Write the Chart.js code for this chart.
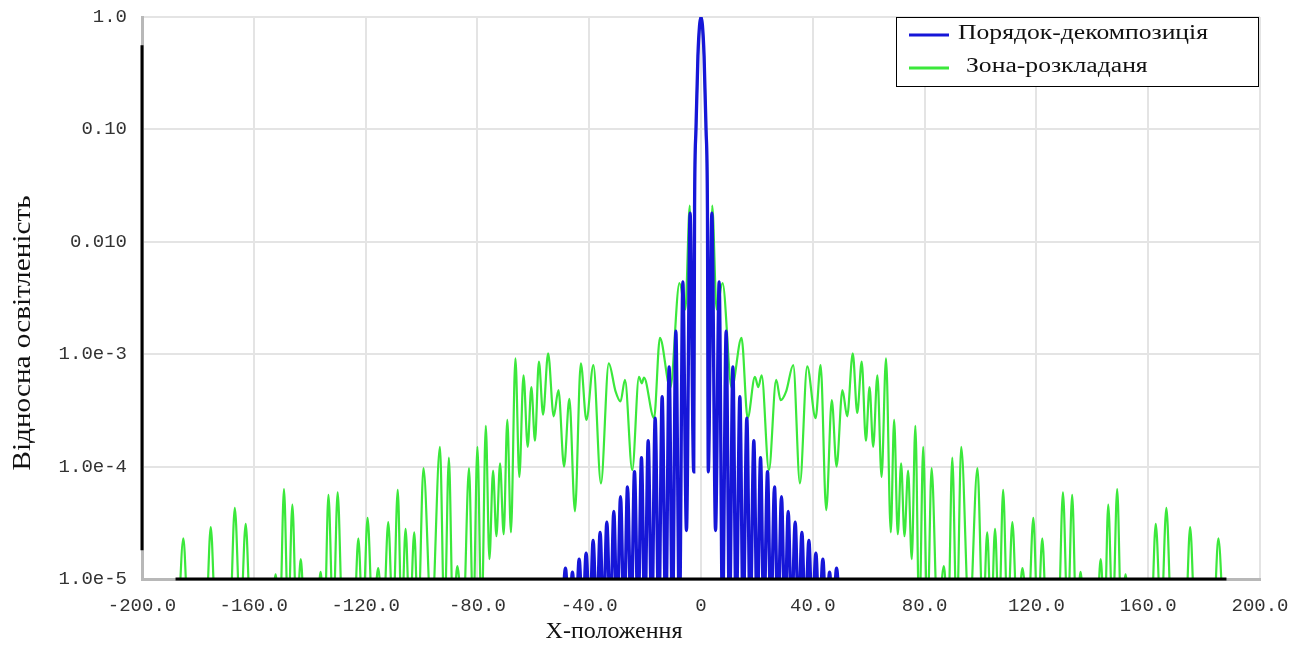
<!DOCTYPE html>
<html>
<head>
<meta charset="utf-8">
<script src="https://cdn.jsdelivr.net/npm/chart.js@4/dist/chart.umd.min.js"></script>
<style>
  html, body { margin: 0; padding: 0; background: #fff; }
  #wrap { width: 1311px; height: 648px; }
</style>
</head>
<body>
<div id="wrap"><canvas id="plot"></canvas></div>
<script>
// axis text
const xTitle = 'X-положення';
const yTitle = 'Відносна освітленість';
const xTickLabels = ['-200.0', '-160.0', '-120.0', '-80.0', '-40.0', '0', '40.0', '80.0', '120.0', '160.0', '200.0'];
const yTickValues = [1e-5, 1e-4, 1e-3, 1e-2, 1e-1, 1];
const yTickLabels = ['1.0e-5', '1.0e-4', '1.0e-3', '0.010', '0.10', '1.0'];

// "Порядок-декомпозиція": peaks and nulls (4e-6 = below the axis)
const blueX = [
  -49.7, -48.5, -47.2, -46.0, -44.8, -43.6, -42.3, -41.1, -39.8, -38.6,
  -37.3, -36.1, -34.9, -33.7, -32.4, -31.2, -30.0, -28.8, -27.5, -26.3,
  -25.0, -23.8, -22.5, -21.3, -20.1, -18.9, -17.6, -16.4, -15.1, -13.9,
  -12.6, -11.4, -10.2, -9.0, -7.7, -6.5, -5.2, -3.9, -2.6,
  -2.3, -1.8, -1.1, -0.5, 0, 0.5, 1.1, 1.8, 2.3,
  2.6, 3.9, 5.2, 6.5, 7.7, 9.0, 10.2, 11.4, 12.6, 13.9,
  15.1, 16.4, 17.6, 18.9, 20.1, 21.3, 22.5, 23.8, 25.0, 26.3,
  27.5, 28.8, 30.0, 31.2, 32.4, 33.7, 34.9, 36.1, 37.3, 38.6,
  39.8, 41.1, 42.3, 43.6, 44.8, 46.0, 47.2, 48.5, 49.7
];
const blueY = [
  4e-6, 1.25e-5, 4e-6, 1.15e-5, 4e-6, 1.5e-5, 4e-6, 1.7e-5, 4e-6, 2.2e-5,
  4e-6, 2.6e-5, 4e-6, 3.2e-5, 4e-6, 4.0e-5, 4e-6, 5.4e-5, 4e-6, 6.6e-5,
  4e-6, 9.0e-5, 4e-6, 1.2e-4, 4e-6, 1.7e-4, 4e-6, 2.7e-4, 4e-6, 4.2e-4,
  4e-6, 7.7e-4, 4e-6, 1.6e-3, 4e-6, 4.4e-3, 2.7e-5, 1.8e-2, 9.0e-5,
  2.0e-2, 0.1, 0.45, 0.85, 1.0, 0.85, 0.45, 0.1, 2.0e-2,
  9.0e-5, 1.8e-2, 2.7e-5, 4.4e-3, 4e-6, 1.6e-3, 4e-6, 7.7e-4, 4e-6, 4.2e-4,
  4e-6, 2.7e-4, 4e-6, 1.7e-4, 4e-6, 1.2e-4, 4e-6, 9.0e-5, 4e-6, 6.6e-5,
  4e-6, 5.4e-5, 4e-6, 4.0e-5, 4e-6, 3.2e-5, 4e-6, 2.6e-5, 4e-6, 2.2e-5,
  4e-6, 1.7e-5, 4e-6, 1.5e-5, 4e-6, 1.15e-5, 4e-6, 1.25e-5, 4e-6
];

// "Зона-розкладаня"
const greenX = [
  -187.0, -185.2, -183.4, -177.2, -175.4, -173.6, -168.6, -166.8, -164.8, -162.9,
  -161.1, -153.8, -152.2, -150.7, -149.2, -147.7, -146.2, -144.7, -143.2, -141.7,
  -137.6, -136.1, -134.7, -133.3, -131.6, -130.0, -128.2, -124.2, -122.6, -121.0,
  -119.3, -117.4, -115.5, -113.7, -111.9, -110.2, -108.5, -107.1, -105.7, -104.2,
  -102.6, -101.2, -99.3, -96.4, -93.4, -91.8, -90.2, -88.7, -87.2, -85.1,
  -83.0, -81.5, -80.0, -78.5, -77.0, -75.7, -74.4, -73.2, -71.9, -70.6,
  -69.3, -68.0, -66.4, -65.0, -63.5, -62.0, -60.7, -59.4, -58.0, -56.5,
  -54.7, -52.7, -51.0, -49.0, -47.1, -45.1, -43.0, -41.0, -38.5, -35.8,
  -33.0, -30.6, -28.8, -27.2, -24.6, -22.2, -21.2, -20.4, -16.8, -14.7,
  -11.0, -7.7, -5.6, -4.0,
  -2.6, -2.3, -1.8, -1.1, -0.5, 0, 0.5, 1.1, 1.8, 2.3, 2.6,
  4.0, 5.6, 7.7, 11.0, 14.5, 16.7, 19.3, 20.5, 21.7, 24.3,
  26.9, 28.5, 30.5, 33.0, 35.4, 38.0, 41.0, 42.8, 44.8, 46.8,
  48.5, 50.6, 52.3, 54.3, 55.9, 57.5, 59.0, 60.3, 61.6, 63.1,
  64.6, 66.2, 67.9, 69.1, 70.4, 71.6, 72.8, 74.1, 75.4, 76.7,
  78.1, 79.5, 81.0, 82.5, 84.7, 86.9, 88.4, 89.9, 91.5, 93.1,
  96.0, 98.9, 100.9, 102.4, 103.8, 105.2, 106.6, 108.1, 109.7, 111.4,
  113.2, 115.0, 117.0, 118.9, 120.5, 122.1, 123.7, 127.8, 129.5, 131.2,
  132.8, 134.3, 135.8, 137.3, 141.5, 143.0, 144.4, 145.7, 147.3, 148.9,
  150.4, 151.9, 153.4, 161.0, 162.7, 164.6, 166.5, 168.4, 173.3, 175.0,
  176.8, 183.3, 185.1, 186.9
];
const greenY = [
  4e-6, 2.3e-5, 4e-6, 4e-6, 2.9e-5, 4e-6, 4e-6, 4.3e-5, 4e-6, 3.1e-5,
  4e-6, 4e-6, 1.1e-5, 4e-6, 6.3e-5, 4e-6, 4.6e-5, 4e-6, 1.5e-5, 4e-6,
  4e-6, 1.16e-5, 4e-6, 5.6e-5, 4e-6, 5.9e-5, 4e-6, 4e-6, 2.3e-5, 4e-6,
  3.5e-5, 4e-6, 1.25e-5, 4e-6, 3.2e-5, 4e-6, 6.2e-5, 4e-6, 2.8e-5, 4e-6,
  2.6e-5, 4e-6, 9.7e-5, 4e-6, 1.5e-4, 4e-6, 1.2e-4, 4e-6, 1.3e-5, 4e-6,
  9.7e-5, 4e-6, 1.5e-4, 4e-6, 2.3e-4, 1.5e-5, 9.2e-5, 2.4e-5, 1.07e-4, 2.5e-5,
  2.6e-4, 2.6e-5, 9.2e-4, 8.1e-5, 6.5e-4, 1.5e-4, 5.1e-4, 1.7e-4, 8.6e-4, 2.9e-4,
  1.02e-3, 2.8e-4, 4.8e-4, 1.0e-4, 4.0e-4, 4.0e-5, 8.3e-4, 2.6e-4, 8.0e-4, 7.1e-5,
  8.3e-4, 4.7e-4, 3.8e-4, 5.9e-4, 9.3e-5, 6.3e-4, 5.5e-4, 6.2e-4, 2.7e-4, 1.4e-3,
  5.0e-4, 4.3e-3, 2.5e-3, 2.1e-2,
  1.2e-4, 2.0e-2, 0.1, 0.45, 0.85, 1.0, 0.85, 0.45, 0.1, 2.0e-2, 1.2e-4,
  2.1e-2, 2.5e-3, 4.3e-3, 5.0e-4, 1.4e-3, 2.7e-4, 6.3e-4, 5.1e-4, 6.5e-4, 9.3e-5,
  5.9e-4, 3.9e-4, 4.7e-4, 8.0e-4, 7.1e-5, 7.8e-4, 2.7e-4, 8.0e-4, 4.1e-5, 3.9e-4,
  1.0e-4, 4.8e-4, 2.8e-4, 1.02e-3, 3.0e-4, 8.6e-4, 1.7e-4, 5.1e-4, 1.5e-4, 6.5e-4,
  8.1e-5, 9.2e-4, 2.6e-5, 2.6e-4, 2.5e-5, 1.07e-4, 2.4e-5, 9.2e-5, 1.5e-5, 2.3e-4,
  4e-6, 1.5e-4, 4e-6, 9.7e-5, 4e-6, 1.3e-5, 4e-6, 1.2e-4, 4e-6, 1.5e-4,
  4e-6, 9.7e-5, 4e-6, 2.6e-5, 4e-6, 2.8e-5, 4e-6, 6.2e-5, 4e-6, 3.2e-5,
  4e-6, 1.25e-5, 4e-6, 3.5e-5, 4e-6, 2.3e-5, 4e-6, 4e-6, 5.9e-5, 4e-6,
  5.6e-5, 4e-6, 1.16e-5, 4e-6, 4e-6, 1.5e-5, 4e-6, 4.6e-5, 4e-6, 6.3e-5,
  4e-6, 1.1e-5, 4e-6, 4e-6, 3.1e-5, 4e-6, 4.3e-5, 4e-6, 4e-6, 2.9e-5,
  4e-6, 4e-6, 2.3e-5, 4e-6
];

// black strokes along the axes
const baseX = [-188, 188];
const baseY = [1e-5, 1e-5];
const edgeX = [-200, -200];
const edgeY = [0.56, 1.8e-5];

function pts(xs, ys) {
  return xs.map((x, i) => ({ x: x, y: ys[i] }));
}

const legendTextX = [958, 966];

// legend drawn as a framed box in the upper right corner
const boxLegend = {
  id: 'boxLegend',
  afterDraw(chart) {
    const ctx = chart.ctx;
    const rows = chart.data.datasets.filter(d => d.inLegend);
    ctx.save();
    ctx.fillStyle = '#fff';
    ctx.fillRect(896, 17, 362, 69);
    ctx.strokeStyle = '#000';
    ctx.lineWidth = 1;
    ctx.strokeRect(896.5, 17.5, 362, 69);
    ctx.font = '20px "Liberation Serif", serif';
    const sx = 250 / ctx.measureText(rows[0].label).width;
    rows.forEach((ds, i) => {
      const y = 35 + i * 33;
      ctx.strokeStyle = ds.borderColor;
      ctx.lineWidth = 3;
      ctx.beginPath();
      ctx.moveTo(909, y);
      ctx.lineTo(949, y);
      ctx.stroke();
      ctx.save();
      ctx.translate(legendTextX[i], y + 4);
      ctx.scale(sx, 1);
      ctx.fillStyle = '#111';
      ctx.textBaseline = 'alphabetic';
      ctx.fillText(ds.label, 0, 0);
      ctx.restore();
    });
    ctx.restore();
  }
};

const axisTitles = {
  id: 'axisTitles',
  afterDraw(chart) {
    const ctx = chart.ctx;
    ctx.save();
    ctx.fillStyle = '#111';
    ctx.textAlign = 'center';
    ctx.textBaseline = 'middle';
    ctx.font = '24px "Liberation Serif", serif';
    ctx.fillText(xTitle, 614, 632);
    ctx.translate(23, 333);
    ctx.rotate(-Math.PI / 2);
    ctx.font = '26px "Liberation Serif", serif';
    // stretch along the text to the length seen in the picture
    ctx.scale(275 / ctx.measureText(yTitle).width, 1);
    ctx.fillText(yTitle, 0, 0);
    ctx.restore();
  }
};

const tickFont = { family: '"Liberation Mono", monospace', size: 19 };
const gridStyle = { color: '#e4e4e4', lineWidth: 2, drawTicks: false };
const borderStyle = { color: '#b8b8b8', width: 3 };

new Chart(document.getElementById('plot'), {
  type: 'line',
  data: {
    datasets: [
      {
        label: 'Порядок-декомпозиція',
        data: pts(blueX, blueY),
        borderColor: '#1616d8',
        borderWidth: 3.3,
        order: 1,
        inLegend: true
      },
      {
        label: 'Зона-розкладаня',
        data: pts(greenX, greenY),
        borderColor: '#3be83b',
        borderWidth: 2.2,
        order: 2,
        inLegend: true
      },
      {
        label: 'base',
        data: pts(baseX, baseY),
        borderColor: '#000',
        borderWidth: 3,
        clip: 4,
        order: 0
      },
      {
        label: 'edge',
        data: pts(edgeX, edgeY),
        borderColor: '#000',
        borderWidth: 3,
        clip: 4,
        order: 0
      }
    ]
  },
  options: {
    responsive: true,
    maintainAspectRatio: false,
    animation: false,
    layout: { padding: { top: 17, right: 51, left: 0, bottom: 0 } },
    elements: {
      point: { radius: 0 },
      line: { cubicInterpolationMode: 'monotone', fill: false }
    },
    plugins: {
      legend: { display: false },
      tooltip: { enabled: false }
    },
    scales: {
      x: {
        type: 'linear',
        min: -200,
        max: 200,
        afterFit: (s) => { s.height = 69; },
        grid: gridStyle,
        border: borderStyle,
        ticks: {
          stepSize: 40,
          autoSkip: false,
          maxRotation: 0,
          padding: 16,
          color: '#333',
          font: tickFont,
          callback: (v, i) => xTickLabels[i]
        }
      },
      y: {
        type: 'logarithmic',
        min: 1e-5,
        max: 1,
        afterFit: (s) => { s.width = 142; s.paddingTop = 0; s.paddingBottom = 0; },
        afterBuildTicks: (s) => { s.ticks = yTickValues.map(v => ({ value: v })); },
        grid: gridStyle,
        border: borderStyle,
        ticks: {
          autoSkip: false,
          padding: 15,
          color: '#333',
          font: tickFont,
          callback: (v, i) => yTickLabels[i]
        }
      }
    }
  },
  plugins: [boxLegend, axisTitles]
});
</script>
</body>
</html>
